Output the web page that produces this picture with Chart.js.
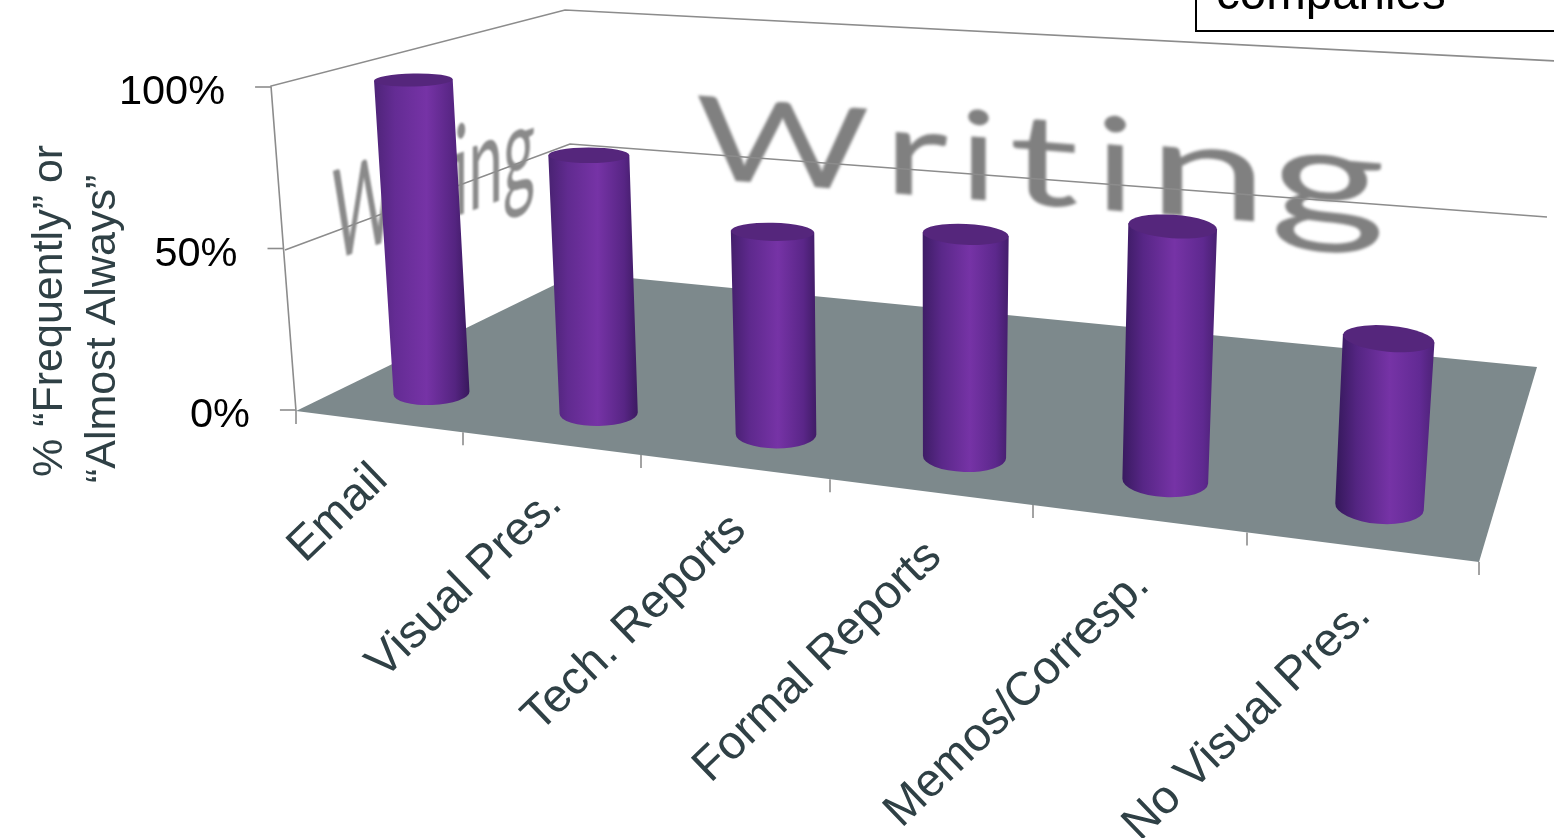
<!DOCTYPE html>
<html><head><meta charset="utf-8">
<style>html,body{margin:0;padding:0;background:#fff;overflow:hidden}canvas{display:block}</style>
<script src="https://cdn.jsdelivr.net/npm/chart.js@4"></script>
</head><body><canvas id="c" width="1554" height="838"></canvas>
<script>
const categories = ['Email','Visual Pres.','Tech. Reports','Formal Reports','Memos/Corresp.','No Visual Pres.'];
const values = [100, 80, 61, 65, 72, 46];
const yTicks = [0, 50, 100];
const yTitleLines = ['% “Frequently” or', '“Almost Always”'];
const watermark = 'Writing';
const noteText = 'companies';

// Projective layout of the floor: depth along the category axis
const D = -0.02875;
const proj = (a, b, i) => (a + b * i) / (1 + D * i);
const floorX = i => proj(431.5, 149.94, i);
const floorY = i => proj(393, 8.2, i);
const pxPerUnit = 3.23, heightK = 3.13 / pxPerUnit;
const VPX = 920, VPD = 8430;

class PerspectiveCategory extends Chart.CategoryScale {
  getPixelForValue(value) {
    const v = typeof value === 'number' ? value : this.parse(value);
    return floorX(v);
  }
}
PerspectiveCategory.id = 'perspectiveCategory';
PerspectiveCategory.defaults = Chart.CategoryScale.defaults;
Chart.register(PerspectiveCategory);

const BC = Chart.BarController.prototype;
const origVal = BC._calculateBarValuePixels, origIdx = BC._calculateBarIndexPixels;
BC._calculateBarValuePixels = function (i) {
  const o = origVal.call(this, i);
  const h = Math.abs(o.base - o.head) * heightK / (1 + D * i);
  const base = floorY(i);
  return { size: h, base, head: base - h, center: base - h / 2 };
};
BC._calculateBarIndexPixels = function (i, ruler) {
  const o = origIdx.call(this, i, ruler);
  const s = 76 / (1 + D * i);
  return { base: o.center - s / 2, head: o.center + s / 2, center: o.center, size: s };
};
Chart.BarElement.prototype.draw = function (ctx) {
  const i = this.barIndex, bx = this.x, by = this.base, ty = this.y;
  const h = by - ty, tx = bx + h * (bx - VPX) / VPD;
  const bw = this.width / 2, tw = this.width * 1.035 / 2;
  const bry = 12 + i, tRy = 6.5 + 1.3 * i;
  const bRot = -0.04 + 0.024 * i, tRot = -0.02 + 0.022 * i;
  ctx.save();
  const L = Math.min(tx - tw, bx - bw), R = Math.max(tx + tw, bx + bw);
  const g = ctx.createLinearGradient(L, 0, R, 0);
  const t = i / 5;
  const mix = (a, b) => `rgb(${a.map((v, k) => Math.round(v + (b[k] - v) * t)).join(',')})`;
  g.addColorStop(0, mix([78, 36, 120], [52, 24, 90]));
  g.addColorStop(0.22, mix([100, 44, 148], [84, 37, 130]));
  g.addColorStop(0.55, '#7633a6');
  g.addColorStop(0.85, mix([84, 36, 128], [98, 42, 148]));
  g.addColorStop(1, mix([56, 24, 92], [76, 34, 118]));
  const dx = tw * Math.cos(tRot), dy = tw * Math.sin(tRot);
  ctx.fillStyle = g;
  ctx.beginPath();
  ctx.moveTo(tx - dx, ty - dy);
  ctx.lineTo(bx - bw, by);
  ctx.ellipse(bx, by, bw, bry, bRot, Math.PI, 0, true);
  ctx.lineTo(tx + dx, ty + dy);
  ctx.closePath();
  ctx.fill();
  ctx.fillStyle = '#55267c';
  ctx.beginPath();
  ctx.ellipse(tx, ty, tw, tRy, tRot, 0, Math.PI * 2);
  ctx.fill();
  ctx.restore();
};

const WALL = {
  leftTop: [271, 86], leftBottom: [296, 411],
  backTop: [565, 10], backMid: [570, 144], midLeft: [285, 250],
  rightTop: [1556, 61], rightMid: [1547, 217],
  floor: [[296, 411], [579, 273], [1537, 367], [1479, 562]],
  xTicks: [296, 463, 641, 830, 1033, 1247, 1479]
};
const wallX = y => WALL.leftTop[0] + (y - WALL.leftTop[1]) * 25 / 325;
const frontY = x => 411 + (x - 296) * 151 / 1183;

// Watermark glyph extents on the back wall (left, right)
const backGlyphs = [[697, 868], [895, 948], [967, 989], [1012, 1078], [1104, 1126], [1162, 1254], [1276, 1382]];

function stretchedText(ctx, text, font, color, blur, m, targetW) {
  ctx.save();
  ctx.font = font;
  const w = ctx.measureText(text).width, s = targetW / w;
  ctx.filter = `blur(${blur}px)`;
  ctx.fillStyle = color;
  ctx.textBaseline = 'alphabetic';
  ctx.transform(s, m.slope * s, m.shear, 1, m.x, m.y);
  ctx.fillText(text, 0, 0);
  ctx.restore();
}
function backWallText(ctx) {
  ctx.save();
  ctx.filter = 'blur(1.4px)';
  ctx.fillStyle = '#808080';
  ctx.textBaseline = 'alphabetic';
  [...watermark].forEach((ch, k) => {
    const [l, r] = backGlyphs[k];
    const cx = (l + r) / 2;
    const size = 115 + (cx - 780) / 430 * 19;
    ctx.font = size + 'px Lato';
    const mt = ctx.measureText(ch);
    const gw = mt.actualBoundingBoxRight + mt.actualBoundingBoxLeft;
    const s = (r - l) / gw;
    const base = 182 + (cx - 750) * 0.078;
    ctx.save();
    ctx.transform(s, 0.078 * s, 0, 1, cx, base);
    ctx.fillText(ch, -gw / 2 + mt.actualBoundingBoxLeft, 0);
    ctx.restore();
  });
  ctx.restore();
}
function seg(ctx, pts) {
  ctx.beginPath();
  pts.forEach((p, k) => k ? ctx.lineTo(p[0], p[1]) : ctx.moveTo(p[0], p[1]));
  ctx.stroke();
}

const backdrop = {
  id: 'backdrop',
  beforeDatasetsDraw(chart) {
    chart.getDatasetMeta(0).data.forEach((el, i) => { el.barIndex = i; });
    const ctx = chart.ctx, y = chart.scales.y;
    ctx.save();
    ctx.fillStyle = '#fff';
    ctx.fillRect(0, 0, chart.width, chart.height);
    backWallText(ctx);
    stretchedText(ctx, watermark, '125px Lato', '#8a8a8a', 0.8, { slope: -0.36, shear: 0, x: 332, y: 261 }, 203);
    ctx.strokeStyle = '#8c8c8c';
    ctx.lineWidth = 1.6;
    seg(ctx, [WALL.leftBottom, WALL.leftTop, WALL.backTop, WALL.rightTop]);
    seg(ctx, [WALL.midLeft, WALL.backMid, WALL.rightMid]);
    ctx.fillStyle = '#7d898c';
    ctx.beginPath();
    WALL.floor.forEach((p, k) => k ? ctx.lineTo(p[0], p[1]) : ctx.moveTo(p[0], p[1]));
    ctx.closePath();
    ctx.fill();
    yTicks.forEach(v => {
      const py = y.getPixelForValue(v), wx = wallX(py);
      seg(ctx, [[wx - 16, py], [wx, py]]);
    });
    WALL.xTicks.forEach(x => seg(ctx, [[x, frontY(x)], [x, frontY(x) + 13]]));
    ctx.restore();
  },
  afterDraw(chart) {
    const ctx = chart.ctx, xs = chart.scales.x, y = chart.scales.y;
    ctx.save();
    ctx.fillStyle = '#000';
    ctx.font = '41.5px "Liberation Sans"';
    ctx.textAlign = 'right';
    ctx.textBaseline = 'alphabetic';
    yTicks.forEach(v => {
      const py = y.getPixelForValue(v);
      ctx.fillText(v + '%', wallX(py) - 46, py + 17);
    });
    ctx.fillStyle = '#2f4045';
    ctx.font = '43px "Liberation Sans"';
    yTitleLines.forEach((line, k) => {
      ctx.save();
      ctx.translate(62 + 53 * k, 477 + 6 * k);
      ctx.rotate(-Math.PI / 2);
      ctx.textAlign = 'left';
      ctx.fillText(line, 0, 0);
      ctx.restore();
    });
    ctx.font = '47px "Liberation Sans"';
    categories.forEach((label, i) => {
      const ax = xs.getPixelForTick(i) - 51 + 7 * i;
      const ay = frontY(ax) + 51 + 2 * i;
      ctx.save();
      ctx.translate(ax, ay);
      ctx.rotate(-44 * Math.PI / 180);
      ctx.textAlign = 'right';
      ctx.textBaseline = 'middle';
      ctx.fillText(label, 0, 0);
      ctx.restore();
    });
    ctx.fillStyle = '#fff';
    ctx.fillRect(1196, -4, 362, 35);
    ctx.strokeStyle = '#000';
    ctx.lineWidth = 2;
    ctx.strokeRect(1196, -4, 362, 35);
    ctx.fillStyle = '#000';
    ctx.font = '47.5px "Liberation Sans"';
    ctx.textAlign = 'left';
    ctx.textBaseline = 'alphabetic';
    ctx.fillText(noteText, 1216, 9);
    ctx.restore();
  }
};

new Chart(document.getElementById('c'), {
  type: 'bar',
  data: { labels: categories, datasets: [{ label: '% Frequently or Almost Always', data: values, backgroundColor: '#7633a6' }] },
  options: {
    responsive: false, animation: false,
    layout: { padding: 0 },
    plugins: { legend: { display: false }, tooltip: { enabled: false }, title: { display: false } },
    scales: {
      x: { type: 'perspectiveCategory', display: false, offset: true },
      y: { type: 'linear', display: false, min: -(838 - 410) / pxPerUnit, max: 410 / pxPerUnit }
    }
  },
  plugins: [backdrop]
});
</script></body></html>
